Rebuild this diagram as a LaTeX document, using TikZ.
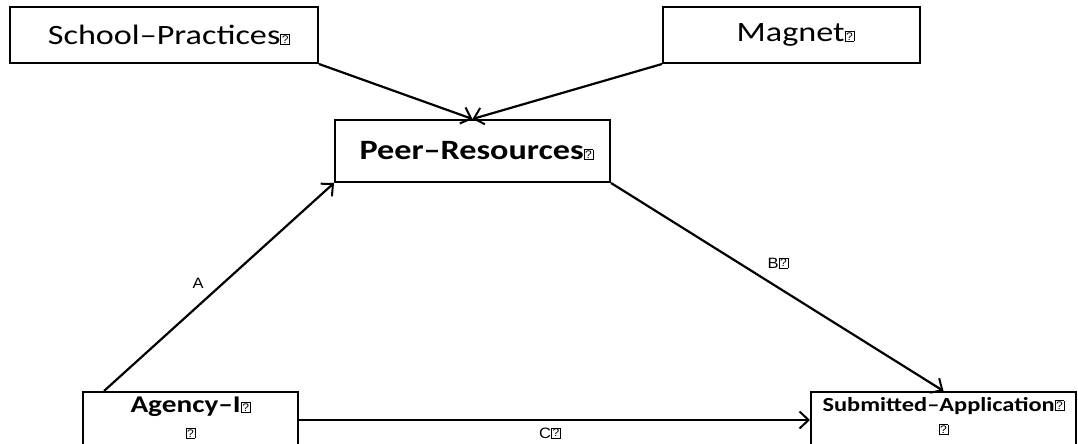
\documentclass[tikz,border=0pt]{standalone}
\usepackage{fontspec}
\setmainfont[FakeStretch=1.22]{Carlito}
\newfontfamily\lblfont[FakeStretch=1.1]{Liberation Sans}
\usetikzlibrary{arrows.meta}

% missing-glyph placeholder as printed in the figure
\newcommand{\qbox}{{\fboxsep=0.8pt\fboxrule=0.7pt\raisebox{1.5pt}{\fbox{\lblfont\fontsize{11}{11}\selectfont\mdseries ?}}}}

\begin{document}
\begin{tikzpicture}[
    x=1pt, y=-1pt,
    box/.style={draw=black, line width=2pt, rectangle, inner sep=0pt},
    lbl/.style={font=\lblfont\fontsize{15}{17}\selectfont},
    arrow/.style={-{Straight Barb[length=9pt,width=17pt,line width=2pt]}, line width=2.2pt, black}
]
\useasboundingbox (0,0) rectangle (1078,444);

% Top boxes
\node[box, minimum width=308pt, minimum height=56pt, font=\fontsize{28}{32}\selectfont]
    (school) at (164,35) {\hspace*{10pt}School--Practices\qbox};
\node[box, minimum width=257pt, minimum height=56pt, font=\fontsize{28}{32}\selectfont]
    (magnet) at (791.5,35) {\hspace*{8pt}Magnet\qbox};

% Mediator
\node[box, minimum width=275pt, minimum height=62pt, font=\bfseries\fontsize{28}{32}\selectfont]
    (peer) at (472.5,151) {\hspace*{8pt}Peer--Resources\qbox};

% Bottom boxes (run past the lower edge)
\node[box, anchor=north, minimum width=215pt, align=center, inner ysep=5pt, text depth=40pt,
      font=\bfseries\fontsize{24}{26}\selectfont]
    (agency) at (190.5,391) {Agency--I\qbox\\ \qbox};
\node[box, anchor=north, minimum width=265pt, align=center, inner ysep=5pt, text depth=40pt,
      font=\bfseries\fontsize{20}{24}\selectfont]
    (submit) at (943.5,391) {Submitted--Application\qbox\\ \qbox};

% Arrows
\draw[arrow] (school.south east) -- (peer.north);
\draw[arrow] (magnet.south west) -- (peer.north);
\draw[arrow] ([xshift=22pt]agency.north west) -- (peer.south west);
\draw[arrow] (peer.south east) -- (submit.north);
\draw[arrow] ([yshift=-29pt]agency.north east) -- ([yshift=-29pt]submit.north west);

% Path labels
\node[lbl] (labA) at (198,283) {A};
\node[lbl] (labB) at (778,263) {B\qbox};
\node[lbl] (labC) at (550,433) {C\qbox};

\end{tikzpicture}
\end{document}
